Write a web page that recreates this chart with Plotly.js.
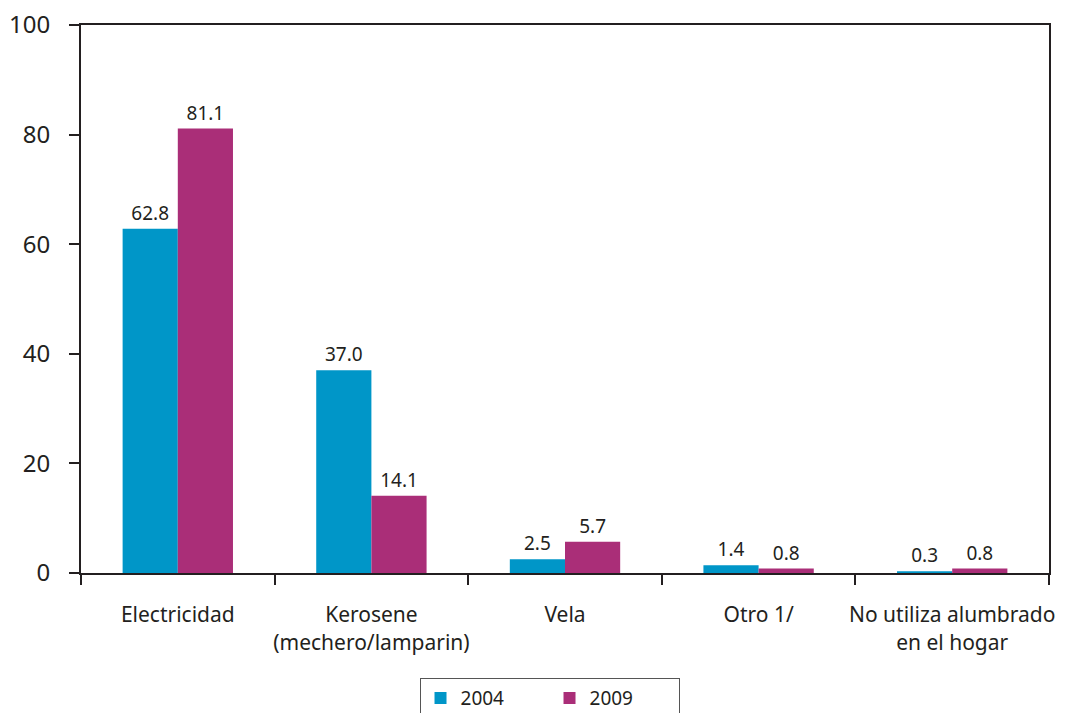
<!DOCTYPE html>
<html>
<head>
<meta charset="utf-8">
<script src="https://cdn.plot.ly/plotly-3.0.1.min.js"></script>
<style>html,body{margin:0;padding:0;background:#fff;}#chart{width:1067px;height:713px;}</style>
</head>
<body>
<div id="chart"></div>
<script>
const categories = ["Electricidad", "Kerosene<br>(mechero/lamparin)", "Vela", "Otro 1/", "No utiliza alumbrado<br>en el hogar"];
const values2004 = [62.8, 37.0, 2.5, 1.4, 0.3];
const values2009 = [81.1, 14.1, 5.7, 0.8, 0.8];
const seriesNames = ["2004", "2009"];
const yTicks = [0, 20, 40, 60, 80, 100];

const ink = "#231f20";
const fontFam = "Noto Sans, Open Sans, sans-serif";

function trace(name, vals, color) {
  return {
    type: "bar", name: name, x: categories, y: vals,
    marker: {color: color, line: {width: 0}},
    text: vals.map(v => v.toFixed(1)), textposition: "outside",
    textfont: {family: fontFam, size: 19, color: ink},
    cliponaxis: false
  };
}

const data = [
  trace(seriesNames[0], values2004, "#0096c8"),
  trace(seriesNames[1], values2009, "#aa2e78")
];

const layout = {
  width: 1067, height: 713,
  margin: {l: 81, r: 18, t: 25, b: 140, autoexpand: false},
  paper_bgcolor: "#fff", plot_bgcolor: "#fff",
  font: {family: fontFam, color: ink},
  barmode: "group", bargap: 0.43, bargroupgap: 0,
  showlegend: true,
  legend: {
    orientation: "h", x: 0.484, xanchor: "center", y: -0.192, yanchor: "top",
    bordercolor: "#555", borderwidth: 1, font: {family: fontFam, size: 19, color: ink},
    entrywidth: 84, traceorder: "normal"
  },
  xaxis: {
    type: "category", showline: true, linecolor: ink, linewidth: 2, mirror: true,
    ticks: "outside", tickson: "boundaries", ticklen: 10, tickwidth: 2, tickcolor: ink,
    tickangle: 0, automargin: false,
    tickfont: {family: fontFam, size: 21, color: ink}, ticklabelstandoff: 22,
    showgrid: false, zeroline: false, fixedrange: true
  },
  yaxis: {
    range: [0, 100], tickvals: yTicks, ticktext: yTicks.map(String),
    showline: true, linecolor: ink, linewidth: 2, mirror: true,
    ticks: "outside", ticklen: 10, tickwidth: 2, tickcolor: ink, automargin: false,
    tickfont: {family: fontFam, size: 24, color: ink}, ticklabelstandoff: 14,
    showgrid: false, zeroline: false, fixedrange: true
  }
};

Plotly.newPlot("chart", data, layout, {displayModeBar: false, staticPlot: true});
</script>
</body>
</html>
